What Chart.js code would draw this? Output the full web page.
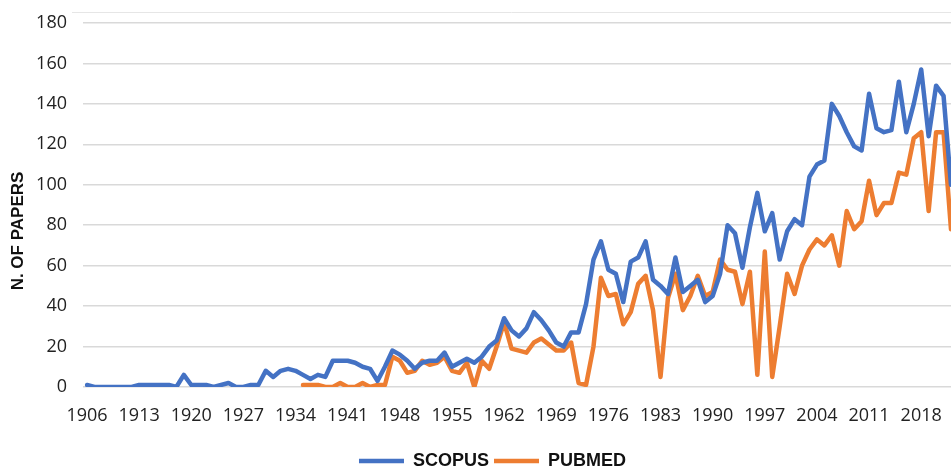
<!DOCTYPE html>
<html>
<head>
<meta charset="utf-8">
<script src="https://cdn.jsdelivr.net/npm/chart.js@4.4.0/dist/chart.umd.min.js"></script>
<style>
  html, body { margin: 0; padding: 0; background: #fff; overflow: hidden; }
  #wrap { width: 951px; height: 471px; position: relative; }
</style>
</head>
<body>
<div id="wrap"><canvas id="papersChart"></canvas></div>
<script>
// years on the x axis (one point per year)
const firstYear = 1906;
const lastYear = 2022;
const labelEvery = 7; // 1906, 1913, 1920 ...

// N. of papers per year, 1906 -> 2022
const scopus = [
  1, 0, 0, 0, 0, 0, 0, 1, 1, 1,        // 1906-1915
  1, 1, 0, 6, 1, 1, 1, 0, 1, 2,        // 1916-1925
  0, 0, 1, 1, 8, 5, 8, 9, 8, 6,        // 1926-1935
  4, 6, 5, 13, 13, 13, 12, 10, 9, 3,   // 1936-1945
  10, 18, 16, 13, 9, 12, 13, 13, 17, 10, // 1946-1955
  12, 14, 12, 15, 20, 23, 34, 28, 25, 29, // 1956-1965
  37, 33, 28, 22, 20, 27, 27, 41, 63, 72, // 1966-1975
  58, 56, 42, 62, 64, 72, 53, 50, 46, 64, // 1976-1985
  47, 50, 53, 42, 45, 56, 80, 76, 59, 79, // 1986-1995
  96, 77, 86, 63, 77, 83, 80, 104, 110, 112, // 1996-2005
  140, 134, 126, 119, 117, 145, 128, 126, 127, 151, // 2006-2015
  126, 140, 157, 124, 149, 144, 100    // 2016-2022
];

// PubMed series starts later
const pubmedStart = 1935;
const pubmed = [
  1, 1, 1, 0, 0, 2, 0, 0, 2, 0,        // 1935-1944
  1, 1, 15, 13, 7, 8, 13, 11, 12, 15,  // 1945-1954
  8, 7, 12, 0, 13, 9, 20, 32, 19, 18,  // 1955-1964
  17, 22, 24, 21, 18, 18, 22, 2, 1, 20, // 1965-1974
  54, 45, 46, 31, 37, 51, 55, 38, 5, 44, // 1975-1984
  56, 38, 45, 55, 45, 47, 63, 58, 57, 41, // 1985-1994
  57, 6, 67, 5, 30, 56, 46, 60, 68, 73, // 1995-2004
  70, 75, 60, 87, 78, 82, 102, 85, 91, 91, // 2005-2014
  106, 105, 123, 126, 87, 126, 126, 78 // 2015-2022
];

const yMax = 180;
const yStep = 20;

const years = [];
for (let y = firstYear; y <= lastYear; y++) years.push(String(y));
const pubmedFull = years.map(y => {
  const i = Number(y) - pubmedStart;
  return i >= 0 ? pubmed[i] : null;
});

const tickFont = { family: "Open Sans", size: 18 };

// y axis title + thin top border, and nudge legend to where the original sits
const extras = {
  id: "extras",
  afterLayout(chart) {
    const lg = chart.legend;
    lg.top += 9; lg.bottom += 9;
    lg.left += 17; lg.right += 17;
  },
  afterDraw(chart) {
    const c = chart.ctx;
    c.save();
    c.strokeStyle = "#e6e6e6";
    c.lineWidth = 1;
    c.beginPath();
    c.moveTo(72, 12.5);
    c.lineTo(chart.width, 12.5);
    c.stroke();
    c.translate(18.5, 231);
    c.rotate(-Math.PI / 2);
    c.font = "bold 17px 'Liberation Sans'";
    c.fillStyle = "#111";
    c.textAlign = "center";
    c.textBaseline = "middle";
    c.fillText("N. OF PAPERS", 0, 0);
    c.restore();
  }
};

new Chart(document.getElementById("papersChart").getContext("2d"), {
  type: "line",
  data: {
    labels: years,
    datasets: [
      {
        label: "SCOPUS",
        data: scopus,
        borderColor: "#4472C4",
        backgroundColor: "#4472C4",
        borderWidth: 4.5,
        borderJoinStyle: "round",
        borderCapStyle: "round",
        pointRadius: 0,
        tension: 0,
      },
      {
        label: "PUBMED",
        data: pubmedFull,
        borderColor: "#ED7D31",
        backgroundColor: "#ED7D31",
        borderWidth: 4.5,
        borderJoinStyle: "round",
        borderCapStyle: "round",
        pointRadius: 0,
        tension: 0,
      },
    ],
  },
  options: {
    responsive: true,
    maintainAspectRatio: false,
    animation: false,
    layout: { padding: { top: 23, right: 0, left: 0, bottom: 0 } },
    plugins: {
      legend: {
        position: "bottom",
        labels: {
          usePointStyle: true,
          pointStyle: "line",
          pointStyleWidth: 45,
          padding: 5,
          color: "#111",
          font: { family: "Liberation Sans", size: 18, weight: "bold" },
        },
      },
      tooltip: { enabled: false },
    },
    scales: {
      x: {
        grid: { display: false, drawTicks: false },
        border: { display: false },
        ticks: {
          autoSkip: false,
          maxRotation: 0,
          padding: 18,
          color: "#222",
          font: tickFont,
          callback: (v, i) => (i % labelEvery === 0 ? years[i] : ""),
        },
        afterFit: s => { s.height = 51; s.paddingLeft = 0; s.paddingRight = 0; },
      },
      y: {
        min: 0,
        max: yMax,
        ticks: { stepSize: yStep, padding: 16, color: "#222", font: tickFont },
        grid: { color: "#d9d9d9", lineWidth: 1.5, tickLength: 4 },
        border: { display: false },
        afterFit: s => { s.width = 87; s.paddingTop = 0; s.paddingBottom = 0; },
      },
    },
  },
  plugins: [extras],
});
</script>
</body>
</html>
